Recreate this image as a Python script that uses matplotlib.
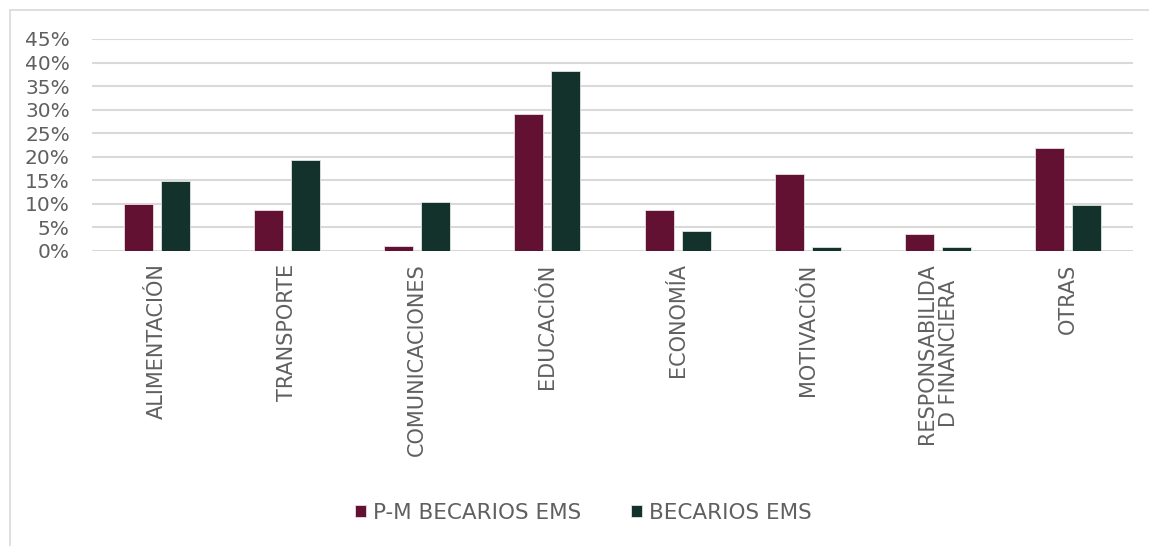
import numpy as np
import matplotlib.pyplot as plt
from matplotlib.patches import Rectangle
from matplotlib.ticker import PercentFormatter

plt.rcParams['font.family'] = ['DejaVu Sans']

# Data
categories = ['ALIMENTACIÓN', 'TRANSPORTE', 'COMUNICACIONES', 'EDUCACIÓN',
              'ECONOMÍA', 'MOTIVACIÓN', 'RESPONSABILIDA\nD FINANCIERA', 'OTRAS']
pm_becarios = [10.0, 8.7, 1.1, 29.0, 8.7, 16.3, 3.6, 21.9]
becarios = [14.9, 19.3, 10.4, 38.3, 4.2, 0.9, 0.9, 9.8]
series_names = ['P-M BECARIOS EMS', 'BECARIOS EMS']

fig = plt.figure(figsize=(11.49, 5.46), dpi=100)
ax = fig.add_axes([92 / 1149, 1 - 251 / 546, (1133 - 92) / 1149, (251 - 39) / 546])

x = np.arange(len(categories))
w = 0.223
ax.bar(x - 0.142, pm_becarios, w, color='#621132', edgecolor='#e8e0e3', linewidth=0.6,
       label=series_names[0], zorder=3)
ax.bar(x + 0.142, becarios, w, color='#13322B', edgecolor='#dfe5e3', linewidth=0.6,
       label=series_names[1], zorder=3)

ax.set_xlim(-0.5, len(categories) - 0.5)
ax.set_ylim(0, 45)
ax.set_yticks(np.arange(0, 46, 5))
ax.yaxis.set_major_formatter(PercentFormatter(decimals=0))
ax.grid(axis='y', color='#d9d9d9', linewidth=1.5, zorder=0)
for s in ax.spines.values():
    s.set_visible(False)
ax.tick_params(axis='both', length=0, colors='#606060')
ax.tick_params(axis='y', labelsize=14.5, pad=16)
ax.tick_params(axis='x', pad=9)
ax.set_xticks(x)
ax.set_xticklabels(categories, rotation=90, va='top', ha='center', fontsize=15,
                   linespacing=1.1)

ax.legend(loc='center', bbox_to_anchor=(0.508, 1 - 513 / 546), bbox_transform=fig.transFigure,
          ncol=2, frameon=False, fontsize=15.5, labelcolor='#606060',
          handlelength=0.5, handleheight=0.5, handletextpad=0.35, columnspacing=2.3)

# Chart frame
fig.patches.append(Rectangle((10 / 1149, -0.01), 1.2, 1 - 10 / 546 + 0.01, transform=fig.transFigure,
                             fill=False, edgecolor='#d9d9d9', linewidth=1.2))

fig.savefig('out.png', dpi=100)
